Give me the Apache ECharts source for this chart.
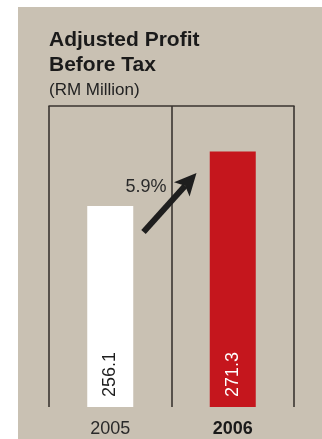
<!DOCTYPE html>
<html>
<head>
<meta charset="utf-8">
<script src="https://cdn.jsdelivr.net/npm/echarts@6/dist/echarts.min.js"></script>
<style>
  html, body { margin: 0; padding: 0; background: #ffffff; }
  #chart { width: 322px; height: 439px; }
</style>
</head>
<body>
<div id="chart"></div>
<script>
// ---- data ----
const categories = ['2005', '2006'];
const profitValues = [256.1, 271.3];
const barColors = ['#ffffff', '#c5161d'];
const labelColors = ['#1e1e1e', '#ffffff'];
const titleLines = ['Adjusted Profit', 'Before Tax'];
const unitText = '(RM Million)';

const FONT = '"Liberation Sans", Arial, Helvetica, sans-serif';
const growth = ((profitValues[1] / profitValues[0] - 1) * 100).toFixed(1) + '%';

const chart = echarts.init(document.getElementById('chart'), null, { renderer: 'canvas' });

// arrow geometry (annotation)
const tail = [143.5, 232];
const tip = [196.5, 173];
const dx = tip[0] - tail[0], dy = tip[1] - tail[1];
const len = Math.sqrt(dx * dx + dy * dy);
const ux = dx / len, uy = dy / len;
const nx = -uy, ny = ux;
const headLen = 22, headHalf = 10.5, notch = 17;
const base = [tip[0] - ux * headLen, tip[1] - uy * headLen];
const notchPt = [tip[0] - ux * notch, tip[1] - uy * notch];
const c1 = [base[0] + nx * headHalf, base[1] + ny * headHalf];
const c2 = [base[0] - nx * headHalf, base[1] - ny * headHalf];

const lineStyle = { color: '#3a3530', width: 1.6 };

chart.setOption({
  animation: false,
  backgroundColor: 'transparent',
  textStyle: { fontFamily: FONT },
  title: {
    left: 49,
    top: 28,
    padding: 0,
    text: titleLines.join('\n'),
    textStyle: { fontFamily: FONT, fontSize: 21, fontWeight: 'bold', color: '#1a1a1a', lineHeight: 24.5 },
    subtext: unitText,
    subtextStyle: { fontFamily: FONT, fontSize: 17, color: '#222222', lineHeight: 20 },
    itemGap: 3
  },
  grid: { left: 49, right: 28, top: 106, bottom: 32 },
  xAxis: [
    {
      type: 'category',
      data: categories,
      position: 'bottom',
      axisLine: { show: false },
      axisTick: { show: false },
      splitLine: { show: true, lineStyle: lineStyle },
      axisLabel: {
        margin: 13,
        fontFamily: FONT,
        fontSize: 18,
        color: '#2a2a2a',
        formatter: function (v, i) { return i === categories.length - 1 ? '{b|' + v + '}' : '{n|' + v + '}'; },
        rich: {
          n: { fontFamily: FONT, fontSize: 18, color: '#2a2a2a' },
          b: { fontFamily: FONT, fontSize: 18, fontWeight: 'bold', color: '#1a1a1a' }
        }
      }
    },
    {
      type: 'category',
      data: categories,
      position: 'top',
      axisLine: { show: true, lineStyle: lineStyle },
      axisTick: { show: false },
      axisLabel: { show: false },
      splitLine: { show: false }
    }
  ],
  yAxis: {
    type: 'value',
    min: 200,
    max: 284,
    show: false,
    splitLine: { show: false }
  },
  series: [
    {
      type: 'bar',
      xAxisIndex: 0,
      barWidth: 46,
      data: profitValues.map(function (v, i) {
        return {
          value: v,
          itemStyle: { color: barColors[i] },
          label: { color: labelColors[i] }
        };
      }),
      label: {
        show: true,
        position: 'insideBottom',
        rotate: 90,
        align: 'left',
        verticalAlign: 'middle',
        distance: 10,
        fontFamily: FONT,
        fontSize: 18,
        formatter: function (p) { return p.value.toFixed(1); }
      }
    }
  ],
  graphic: [
    {
      type: 'rect',
      z: -100,
      silent: true,
      shape: { x: 18, y: 7, width: 304, height: 432 },
      style: { fill: '#c9c1b3' }
    },
    {
      type: 'line',
      z: 10,
      shape: { x1: tail[0], y1: tail[1], x2: notchPt[0], y2: notchPt[1] },
      style: { stroke: '#1e1e1e', lineWidth: 6, lineCap: 'butt' }
    },
    {
      type: 'polygon',
      z: 10,
      shape: { points: [tip, c1, notchPt, c2] },
      style: { fill: '#1e1e1e' }
    },
    {
      type: 'text',
      z: 10,
      x: 146,
      y: 187,
      style: {
        text: growth,
        fontFamily: FONT,
        fontSize: 18,
        fill: '#2a2a2a',
        textAlign: 'center',
        textVerticalAlign: 'middle'
      }
    }
  ]
});
</script>
</body>
</html>
